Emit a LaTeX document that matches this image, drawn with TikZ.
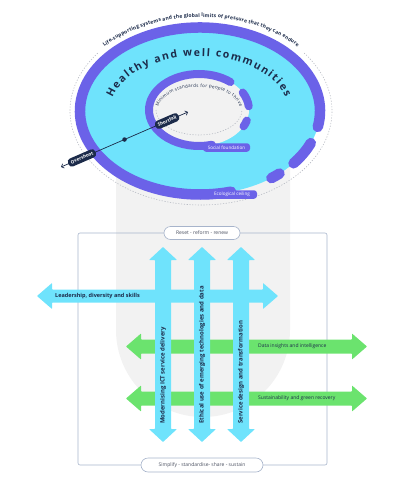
\documentclass[tikz,border=0pt]{standalone}
\usepackage{fontspec}
\setmainfont{Open Sans}
\setsansfont{Open Sans}
\usetikzlibrary{decorations.text,arrows.meta}
\definecolor{cy}{HTML}{6FE3FC}
\definecolor{pu}{HTML}{6B62E8}
\definecolor{gr}{HTML}{6BE36E}
\definecolor{navy}{HTML}{1C2B4A}
\definecolor{bggray}{HTML}{F2F2F2}
\definecolor{framec}{HTML}{A7B4CB}
\definecolor{dotc}{HTML}{B8BCC4}
\definecolor{txtgray}{HTML}{4A5060}
\begin{document}
\begin{tikzpicture}[x=1pt,y=1pt,
  ringo/.style={draw=pu,line width=10.5pt,line cap=round},
  ringi/.style={draw=pu,line width=8pt,line cap=round},
  dotline/.style={draw=dotc,line width=0.6pt,dash pattern=on 1.2pt off 1.6pt},
  tag/.style={fill=pu,rounded corners=3pt,text=white,font=\fontsize{4.6}{5}\selectfont,minimum height=8.5pt,inner sep=0pt},
  navytag/.style={fill=navy,rounded corners=3.5pt,text=white,font=\bfseries\fontsize{4.6}{5}\selectfont,minimum height=8.5pt,inner xsep=2.8pt,inner ysep=0pt},
  pill/.style={draw=framec,fill=white,line width=0.6pt,rounded corners=6.5pt,font=\fontsize{5}{6}\selectfont,text=txtgray,inner sep=0pt},
  arrcy/.style={fill=cy,rounded corners=0.6pt},
  arrgr/.style={fill=gr,rounded corners=0.6pt},
  vtext/.style={rotate=90,anchor=west,inner sep=0pt,text=navy,font=\bfseries\fontsize{6}{7}\selectfont},
  htext/.style={anchor=west,inner sep=0pt,text=navy,font=\fontsize{5}{6}\selectfont}
]
\useasboundingbox (0,0) rectangle (406,-479);

% background pill
\fill[bggray] (116,-150) [rounded corners=87pt] -- (116,-417) -- (290,-417) [sharp corners] -- (290,-150) -- cycle;

% outer dotted ellipse and its text
\draw[dotline] (201,-111) ++(142:131 and 94) arc[start angle=142,end angle=398,x radius=131,y radius=94];
\path[decorate,decoration={text along path,text align={fit to path},text color=navy,
  text={|\bfseries\fontsize{5}{6}\selectfont|Life-supporting systems and the global limits of pressure that they can endure}}]
  (201,-111) ++(137:132 and 94) arc[start angle=137,end angle=43,x radius=132,y radius=94];

% outer blue ellipse and ring
\fill[cy] (200,-111) ellipse[x radius=120,y radius=83.5];
\draw[ringo] (200,-111) ++(-11:120 and 83.5) arc[start angle=-11,end angle=285,x radius=120,y radius=83.5];
\draw[ringo] (200,-111) ++(-22.6:120 and 83.5) arc[start angle=-22.6,end angle=-38.8,x radius=120,y radius=83.5];
\draw[ringo] (200,-111) ++(-48.5:120 and 83.5) arc[start angle=-48.5,end angle=-53.5,x radius=120,y radius=83.5];

% inner ellipse and ring
\fill[bggray] (199,-110) ellipse[x radius=50,y radius=36];
\draw[ringi] (199,-110) ++(51:50 and 36) arc[start angle=51,end angle=285,x radius=50,y radius=36];
\draw[ringi] (199,-110) ++(29:50 and 36) arc[start angle=29,end angle=6,x radius=50,y radius=36];
\draw[ringi] (199,-110) ++(-17:50 and 36) arc[start angle=-17,end angle=-27,x radius=50,y radius=36];
\draw[dotline] (199,-110) ++(180:43 and 25) arc[start angle=180,end angle=360,x radius=43,y radius=25];
\path[decorate,decoration={text along path,text align={fit to path},text color=navy,
  text={|\fontsize{4.5}{5}\selectfont|Minimum standards for people to thrive}}]
  (199,-110) ++(172:41 and 23) arc[start angle=172,end angle=8,x radius=41,y radius=23];

% main title on arc
\path[decorate,decoration={text along path,text align={fit to path},text color=navy,
  text={|\bfseries\fontsize{10.5}{13}\selectfont|Healthy and well communities}}]
  (199,-111) ++(166:89 and 55) arc[start angle=166,end angle=14,x radius=89,y radius=55];

% ring labels
\node[tag,minimum width=47pt] (sf) at (226.5,-147.5) {Social foundation};
\node[tag,minimum width=50pt] (ec) at (232,-194.5) {Ecological ceiling};

% overshoot / shortfall line
\coordinate (ovEnd) at (61,-167);
\coordinate (shEnd) at (188,-112);
\draw[navy,line width=0.7pt,{Straight Barb[length=2.2pt,width=4.5pt]}-{Straight Barb[length=2.2pt,width=4.5pt]}]
  (ovEnd) -- node[pos=0.5,circle,fill=navy,inner sep=0pt,minimum size=4.5pt] (mid) {}
             node[pos=0.165,sloped,navytag] (ov) {Overshoot}
             node[pos=0.835,sloped,navytag] (sh) {Shortfall} (shEnd);

% frame
\draw[framec,line width=0.6pt,rounded corners=2pt] (78,-233) rectangle (327,-465);

% horizontal arrows
\fill[arrcy] (37,-296) -- (52,-283) -- (52,-289.5) -- (263,-289.5) -- (263,-283) -- (278,-296) -- (263,-309) -- (263,-302.5) -- (52,-302.5) -- (52,-309) -- cycle;
\fill[arrgr] (126,-346.5) -- (141,-333.5) -- (141,-339.5) -- (352,-339.5) -- (352,-333.5) -- (367,-346.5) -- (352,-359.5) -- (352,-353.5) -- (141,-353.5) -- (141,-359.5) -- cycle;
\fill[arrgr] (126,-398.5) -- (141,-385.5) -- (141,-391.5) -- (352,-391.5) -- (352,-385.5) -- (367,-398.5) -- (352,-411.5) -- (352,-405.5) -- (141,-405.5) -- (141,-411.5) -- cycle;

% vertical arrows
\fill[arrcy] (163,-247) -- (177,-260) -- (171,-260) -- (171,-429) -- (177,-429) -- (163,-442) -- (149,-429) -- (155,-429) -- (155,-260) -- (149,-260) -- cycle;
\fill[arrcy] (202,-247) -- (216,-260) -- (210,-260) -- (210,-429) -- (216,-429) -- (202,-442) -- (188,-429) -- (194,-429) -- (194,-260) -- (188,-260) -- cycle;
\fill[arrcy] (241,-247) -- (255,-260) -- (249,-260) -- (249,-429) -- (255,-429) -- (241,-442) -- (227,-429) -- (233,-429) -- (233,-260) -- (227,-260) -- cycle;

% arrow texts
\node[htext,font=\bfseries\fontsize{5.5}{6}\selectfont] (lead) at (55,-296) {Leadership, diversity and skills};
\node[htext] (data) at (258,-346.5) {Data insights and intelligence};
\node[htext] (sust) at (258,-398.5) {Sustainability and green recovery};
\node[vtext] (ict) at (163,-424) {Modernising ICT service delivery};
\node[vtext] (eth) at (202,-424) {Ethical use of emerging technologies and data};
\node[vtext] (sdt) at (241,-424) {Service design and transformation};

% frame labels
\node[pill,minimum width=76pt,minimum height=13pt] (reset) at (202,-233) {Reset - reform - renew};
\node[pill,minimum width=122pt,minimum height=14pt,rounded corners=7pt] (simp) at (202,-465) {Simplify - standardise- share - sustain};
\end{tikzpicture}
\end{document}
